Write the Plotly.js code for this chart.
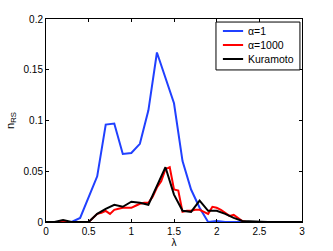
<!DOCTYPE html>
<html><head><meta charset="utf-8">
<script src="https://cdn.plot.ly/plotly-3.0.1.min.js"></script>
<style>html,body{margin:0;padding:0;background:#fff}#g{width:333px;height:251px}</style>
</head><body><div id="g"></div>
<script>
const lamCoarse = [0,0.1,0.2,0.3,0.4,0.5,0.6,0.7,0.8,0.9,1.0,1.1,1.2,1.3,1.4,1.5,1.6,1.7,1.8,1.9,2.0,2.1,2.2,2.3,2.4,2.5,2.6,2.7,2.8,2.9,3.0];
const alpha1 = [0,0,0,0,0.004,0.025,0.045,0.096,0.097,0.067,0.068,0.077,0.11,0.167,0.142,0.117,0.06,0.032,0.014,0,0.001,0,0,0,0,0,0,0,0,0,0];
const kuramoto = [0,0,0.002,0,0,0,0.008,0.013,0.017,0.015,0.02,0.019,0.017,0.035,0.054,0.027,0.011,0.01,0.021,0.011,0.011,0.008,0.004,0.001,0.0005,0,0,0,0,0,0];
const lamFine = [0.1,0.15,0.2,0.25,0.3,0.35,0.4,0.45,0.5,0.55,0.6,0.65,0.7,0.75,0.8,0.85,0.9,0.95,1.0,1.05,1.1,1.15,1.2,1.25,1.3,1.35,1.4,1.45,1.5,1.55,1.6,1.65,1.7,1.75,1.8,1.85,1.9,1.95,2.0,2.05,2.1,2.15,2.2,2.25,2.3,2.35,2.4,2.5,2.6,2.7,2.8,2.9,3.0];
const alpha1000 = [0,0,0.001,0,0,0,0,0,0,0.004,0.008,0.009,0.011,0.008,0.012,0.013,0.014,0.014,0.014,0.016,0.018,0.019,0.019,0.025,0.034,0.04,0.052,0.054,0.032,0.031,0.01,0.011,0.011,0.012,0.012,0.01,0.008,0.015,0.014,0.012,0.009,0.006,0.007,0.004,0.001,0,0,0,0,0,0,0,0];
const names = ['α=1','α=1000','Kuramoto'];
const colors = ['#2040ff','#ff0000','#000000'];

const traces = [
  {x: lamCoarse, y: alpha1, name: names[0], line:{color:colors[0],width:2}},
  {x: lamFine, y: alpha1000, name: names[1], line:{color:colors[1],width:2}},
  {x: lamCoarse, y: kuramoto, name: names[2], line:{color:colors[2],width:2}}
].map(t => Object.assign({type:'scatter', mode:'lines', showlegend:false}, t));

const fam = 'Liberation Sans, Arial, sans-serif';
const fnt = {family:fam, size:10, color:'#000'};

// legend box (drawn in plot-area fractions)
const shapes = [{type:'rect', xref:'x domain', yref:'y domain', x0:0.664, x1:0.992, y0:0.749, y1:0.985,
                 line:{color:'#000', width:1}, fillcolor:'#fff', layer:'above'}];
const annotations = [];
const rowY = [0.941, 0.872, 0.803];
names.forEach((n, i) => {
  shapes.push({type:'line', xref:'x domain', yref:'y domain', x0:0.691, x1:0.770, y0:rowY[i], y1:rowY[i],
               line:{color:colors[i], width:2}, layer:'above'});
  annotations.push({xref:'x domain', yref:'y domain', x:0.782, y:rowY[i], xanchor:'left', yanchor:'middle',
                    text:n, showarrow:false, font:{family:fam, size:10.5, color:'#000'}});
});

const layout = {
  width:333, height:251,
  margin:{l:46, r:31, t:19, b:29},
  paper_bgcolor:'#fff', plot_bgcolor:'#fff',
  font: fnt,
  showlegend:false,
  shapes, annotations,
  xaxis:{range:[0,3], tickvals:[0,0.5,1,1.5,2,2.5,3], ticktext:['0','0.5','1','1.5','2','2.5','3'],
         ticks:'inside', ticklen:3, tickcolor:'#000', showline:true, linecolor:'#000', linewidth:1, mirror:'ticks',
         showgrid:false, zeroline:false, title:{text:'λ', font:fnt, standoff:2}, automargin:false},
  yaxis:{range:[0,0.2], tickvals:[0,0.05,0.1,0.15,0.2], ticktext:['0','0.05','0.1','0.15','0.2'],
         ticks:'inside', ticklen:3, tickcolor:'#000', showline:true, linecolor:'#000', linewidth:1, mirror:'ticks',
         showgrid:false, zeroline:false, title:{text:'n<sub>RS</sub>', font:{family:fam, size:11, color:'#000'}, standoff:6}, automargin:false}
};
Plotly.newPlot('g', traces, layout, {displayModeBar:false, staticPlot:true});
</script></body></html>
